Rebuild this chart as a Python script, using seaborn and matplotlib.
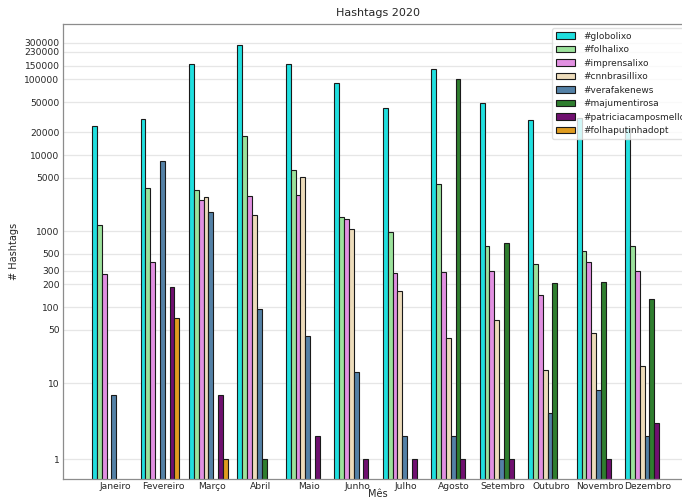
import numpy as np
import pandas as pd
import matplotlib
matplotlib.use("Agg")
import matplotlib.pyplot as plt
import matplotlib.transforms as mtransforms
import seaborn as sns

# Monthly hashtag counts for 2020 (0 = no occurrences that month)
meses = ["Janeiro", "Fevereiro", "Março", "Abril", "Maio", "Junho",
         "Julho", "Agosto", "Setembro", "Outubro", "Novembro", "Dezembro"]

globolixo = [24000, 30000, 160000, 285000, 156000, 90000, 42000, 135000, 49000, 29000, 31000, 23000]
folhalixo = [1200, 3700, 3450, 18000, 6400, 1520, 970, 4150, 635, 370, 550, 630]
imprensalixo = [272, 390, 2600, 2900, 3000, 1430, 278, 290, 300, 145, 390, 300]
cnnbrasillixo = [0, 0, 2830, 1620, 5200, 1050, 164, 39, 68, 15, 45, 17]
verafakenews = [7, 8300, 1800, 95, 42, 14, 2, 2, 1, 4, 8, 2]
majumentirosa = [0, 0, 0, 1, 0, 0, 0, 100000, 690, 210, 215, 126]
patriciacamposmello = [0, 185, 7, 0, 2, 1, 1, 1, 1, 0, 1, 3]
folhaputinhadopt = [0, 72, 1, 0, 0, 0, 0, 0, 0, 0, 0, 0]

hashtags = ["#globolixo", "#folhalixo", "#imprensalixo", "#cnnbrasillixo",
            "#verafakenews", "#majumentirosa", "#patriciacamposmello", "#folhaputinhadopt"]
series = [globolixo, folhalixo, imprensalixo, cnnbrasillixo,
          verafakenews, majumentirosa, patriciacamposmello, folhaputinhadopt]
cores = ["cyan", "lightgreen", "violet", "wheat",
         "steelblue", "forestgreen", "purple", "orange"]

yticks = [1, 10, 50, 100, 200, 300, 500, 1000, 5000, 10000, 20000,
          50000, 100000, 150000, 230000, 300000]

rows = []
for tag, vals in zip(hashtags, series):
    for mes, v in zip(meses, vals):
        rows.append({"Mês": mes, "Hashtag": tag, "Qtd": v if v > 0 else np.nan})
df = pd.DataFrame(rows)

sns.set_theme(style="whitegrid")
plt.rcParams["font.family"] = ["DejaVu Sans"]

fig = plt.figure(figsize=(6.82, 4.97), dpi=100)
ax = fig.add_axes([63 / 682, 18 / 497, 630 / 682, 454.7 / 497])

sns.barplot(data=df, x="Mês", y="Qtd", hue="Hashtag", order=meses,
            hue_order=hashtags, palette=cores, errorbar=None,
            edgecolor="0.1", linewidth=0.8, ax=ax)

ax.set_yscale("log")
ax.set_ylim(0.546, 527000)
ax.set_xlim(-1, 12)
ax.set_yticks(yticks)
ax.set_yticklabels([str(t) for t in yticks])
ax.yaxis.set_minor_locator(matplotlib.ticker.NullLocator())
ax.tick_params(axis="both", labelsize=6.6, colors="0.15", length=0, pad=2.5)
ax.grid(axis="y", color="0.9", linewidth=0.9)
ax.grid(axis="x", visible=False)
for s in ax.spines.values():
    s.set_color("0.55")
    s.set_linewidth(0.9)

# month labels sit a little right of each bar group
shift = mtransforms.ScaledTranslation(3.5 / 100, 0, fig.dpi_scale_trans)
for lbl in ax.get_xticklabels():
    lbl.set_transform(lbl.get_transform() + shift)

ax.set_title("Hashtags 2020", fontsize=8, pad=6)
ax.set_xlabel("Mês", fontsize=7, labelpad=-2)
ax.set_ylabel("# Hashtags", fontsize=7, labelpad=4)

leg = ax.legend(loc="upper left", bbox_to_anchor=((552 - 63) / 630, (479 - 28) / 454.7),
                fontsize=6.5, handlelength=2.2, handleheight=0.7,
                handletextpad=0.9, labelspacing=0.5, borderpad=0.4,
                framealpha=0.8, borderaxespad=0)
leg.get_frame().set_edgecolor("0.85")

fig.savefig("out.png", dpi=100)
